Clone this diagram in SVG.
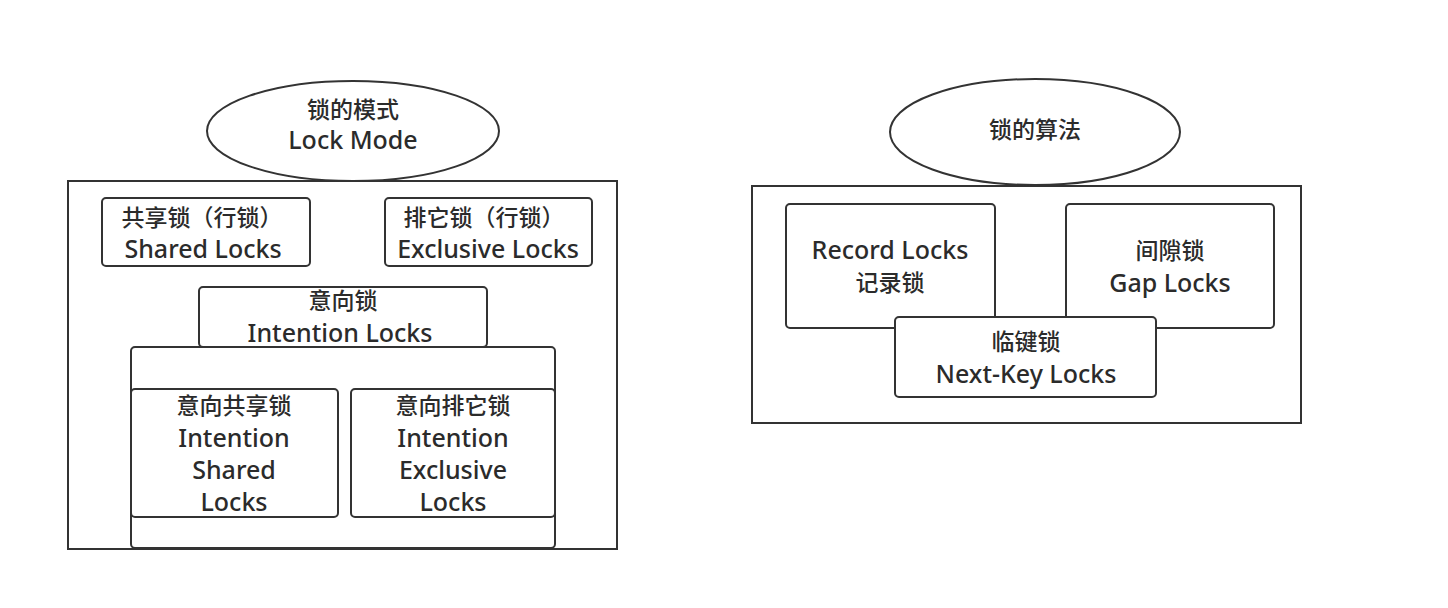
<svg xmlns="http://www.w3.org/2000/svg" width="1448" height="608" viewBox="0 0 1448 608">
<style>
.box{fill:#fff;stroke:#333;stroke-width:2}
.frame{fill:#fff;stroke:#333;stroke-width:2}
.ell{fill:#fff;stroke:#333;stroke-width:2}
text{font-family:"Noto Sans","Open Sans","Noto Sans CJK SC",sans-serif;font-size:23px;font-weight:500;fill:#2b2b2b;text-anchor:middle}
text.en{font-size:25px}
</style>
<rect width="1448" height="608" fill="#fff"/>
<g id="connectors"></g>
<g id="left-frame"><rect class="frame" x="68" y="181" width="549" height="368"/></g>
<g id="lock-mode"><ellipse class="ell" cx="353" cy="131" rx="146" ry="50"/>
<text x="353" y="118">锁的模式</text><text class="en" x="353" y="149">Lock Mode</text></g>
<g id="shared-locks"><rect class="box" x="102" y="198" width="208" height="68" rx="4"/>
<text x="202" y="226">共享锁（行锁）</text><text class="en" x="203" y="258">Shared Locks</text></g>
<g id="exclusive-locks"><rect class="box" x="385" y="198" width="207" height="68" rx="4"/>
<text x="484" y="226">排它锁（行锁）</text><text class="en" x="488" y="258">Exclusive Locks</text></g>
<g id="intention-container"><rect class="box" x="131" y="347" width="424" height="201" rx="4"/></g>
<g id="intention-locks"><rect class="box" x="199" y="287" width="288" height="60" rx="4"/>
<text x="343" y="309">意向锁</text><text class="en" x="340" y="342">Intention Locks</text></g>
<g id="is-locks"><rect class="box" x="131" y="389" width="207" height="128" rx="4"/>
<text x="234" y="414">意向共享锁</text><text class="en" x="234" y="447">Intention</text><text class="en" x="234" y="479">Shared</text><text class="en" x="234" y="511">Locks</text></g>
<g id="ix-locks"><rect class="box" x="351" y="389" width="204" height="128" rx="4"/>
<text x="453" y="414">意向排它锁</text><text class="en" x="453" y="447">Intention</text><text class="en" x="453" y="479">Exclusive</text><text class="en" x="453" y="511">Locks</text></g>
<g id="right-frame"><rect class="frame" x="752" y="186" width="549" height="237"/></g>
<g id="lock-algorithm"><ellipse class="ell" cx="1035" cy="132" rx="145" ry="53"/>
<text x="1035" y="138">锁的算法</text></g>
<g id="record-locks"><rect class="box" x="786" y="204" width="209" height="124" rx="4"/>
<text class="en" x="890" y="259">Record Locks</text><text x="890" y="291">记录锁</text></g>
<g id="gap-locks"><rect class="box" x="1066" y="204" width="208" height="124" rx="4"/>
<text x="1170" y="259">间隙锁</text><text class="en" x="1170" y="292">Gap Locks</text></g>
<g id="next-key-locks"><rect class="box" x="895" y="317" width="261" height="80" rx="4"/>
<text x="1026" y="350">临键锁</text><text class="en" x="1026" y="383">Next-Key Locks</text></g>
</svg>
